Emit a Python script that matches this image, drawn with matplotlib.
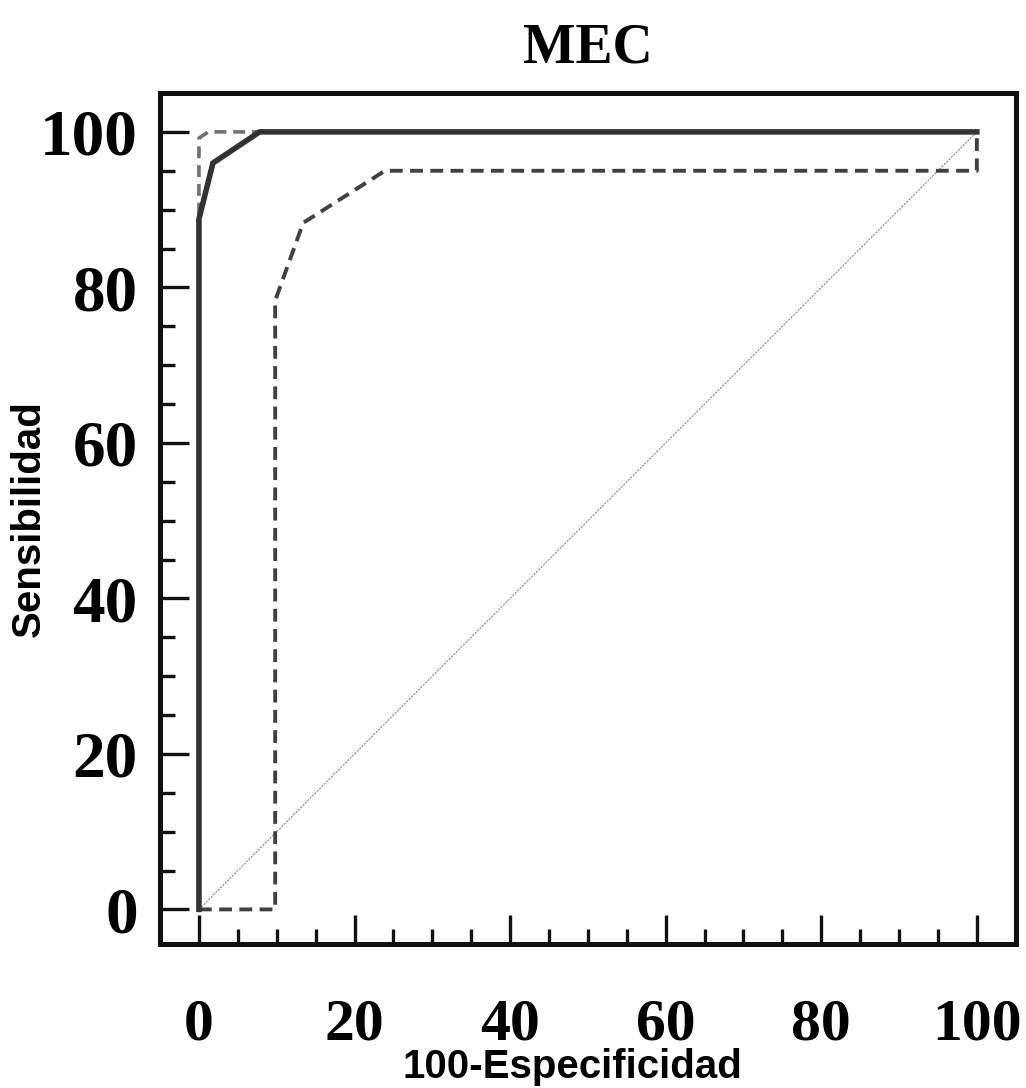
import matplotlib
matplotlib.use("Agg")
import matplotlib.pyplot as plt
from matplotlib.ticker import MultipleLocator

# ROC curves (100-Especificidad, Sensibilidad)
solid_x = [0, 0, 1.8, 7.8, 100]
solid_y = [0, 88.8, 96, 100, 100]

dash_a_x = [0, 0, 1.2, 100]
dash_a_y = [0, 99.2, 100, 100]

dash_b_x = [0, 9.8, 9.8, 13.4, 23.9, 100, 100]
dash_b_y = [0, 0, 78.3, 88.3, 95.0, 95.0, 100]

diag_x = [0, 100]
diag_y = [0, 100]

xticks = [0, 20, 40, 60, 80, 100]
yticks = [0, 20, 40, 60, 80, 100]

fig = plt.figure(figsize=(10.26, 10.88), dpi=100)
ax = fig.add_axes([0.156, 0.132, 0.834, 0.7825])

ax.plot(diag_x, diag_y, color="#8a8a8a", lw=0.8, ls=(0, (2, 1)))
ax.plot(dash_b_x, dash_b_y, color="#404040", lw=2.8, ls=(0, (3.3, 1.9)))
ax.plot(dash_a_x, dash_a_y, color="#707070", lw=2.6, ls=(0, (3.3, 1.9)))
ax.plot(solid_x, solid_y, color="#333333", lw=4.0, solid_joinstyle="miter")

ax.set_xlim(-5, 105)
ax.set_ylim(-4.5, 105)
ax.set_xticks(xticks)
ax.set_yticks(yticks)
ax.xaxis.set_minor_locator(MultipleLocator(5))
ax.yaxis.set_minor_locator(MultipleLocator(5))

for s in ax.spines.values():
    s.set_linewidth(3.6)
    s.set_color("#111111")

ax.tick_params(which="major", direction="in", length=21, width=2.4, color="#111111")
ax.tick_params(which="minor", direction="in", length=11, width=2.4, color="#111111")
ax.tick_params(axis="x", which="major", pad=39)
ax.tick_params(axis="y", which="major", pad=16)
ax.tick_params(top=False, right=False)

ax.set_xticklabels([str(t) for t in xticks],
                   fontdict=dict(family="Liberation Serif", weight="bold", size=43))
ax.set_yticklabels([str(t) for t in yticks],
                   fontdict=dict(family="Liberation Serif", weight="bold", size=47))

ax.set_title("MEC", family="Liberation Serif", weight="bold", size=40, pad=22)
ax.set_xlabel("100-Especificidad", family="Liberation Sans", weight="bold", size=29)
ax.set_ylabel("Sensibilidad", family="Liberation Sans", weight="bold", size=29)
ax.xaxis.label.set_va("baseline")
ax.xaxis.set_label_coords(0.482, -0.1575)
ax.yaxis.set_label_coords(-0.131, 0.5)

fig.savefig("out.png", dpi=100)
